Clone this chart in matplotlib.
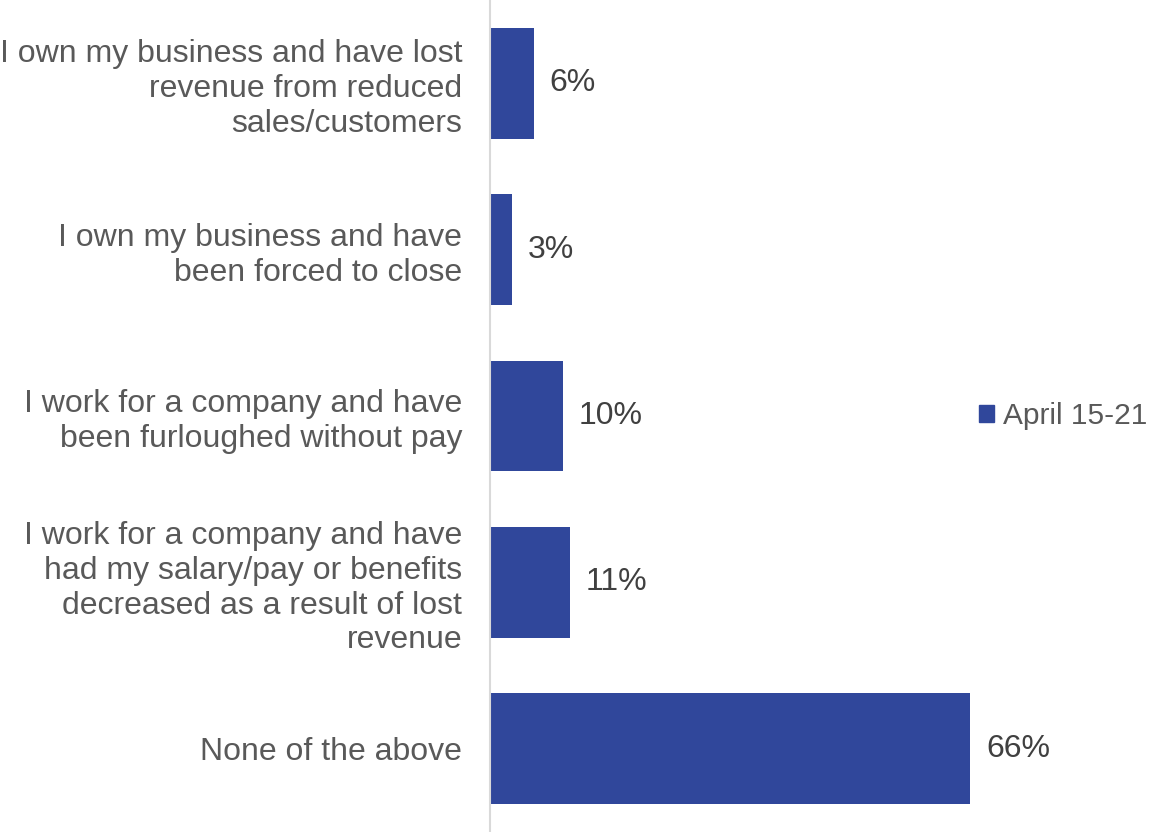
import matplotlib.pyplot as plt
from matplotlib.patches import Patch

categories = [
    "I own my business and have lost\nrevenue from reduced\nsales/customers",
    "I own my business and have\nbeen forced to close",
    "I work for a company and have\nbeen furloughed without pay",
    "I work for a company and have\nhad my salary/pay or benefits\ndecreased as a result of lost\nrevenue",
    "None of the above",
]
values = [6, 3, 10, 11, 66]
series_name = "April 15-21"

bar_color = "#30479B"
label_gray = "#595959"
value_gray = "#404040"

plt.rcParams["font.family"] = ["Liberation Sans", "DejaVu Sans"]

fig = plt.figure(figsize=(11.53, 8.32), dpi=100)
ax = fig.add_axes([0.425, 0.0, 0.505, 1.0])

y = list(range(len(categories)))
ax.barh(y, values, height=0.667, color=bar_color)
for yi, v in zip(y, values):
    ax.text(v + 2.2, yi, f"{v}%", va="center", ha="left", fontsize=23, color=value_gray)

ax.set_xlim(0, 80)
ax.set_ylim(4.5, -0.5)
ax.set_yticks(y)
ax.set_yticklabels(categories, fontsize=23, color=label_gray, linespacing=1.2)
ax.tick_params(axis="y", length=0, pad=20)
ax.set_xticks([])
for side in ["top", "right", "bottom"]:
    ax.spines[side].set_visible(False)
ax.spines["left"].set_color("#D9D9D9")
ax.spines["left"].set_linewidth(1.5)

fig.legend(handles=[Patch(color=bar_color)], labels=[series_name],
           loc="center left", bbox_to_anchor=(0.849, 0.5), frameon=False,
           fontsize=21.5, handlelength=0.5, handleheight=0.5, handletextpad=0.3,
           labelcolor=label_gray, borderpad=0.0, borderaxespad=0.0)

fig.savefig("out.png", dpi=100)
